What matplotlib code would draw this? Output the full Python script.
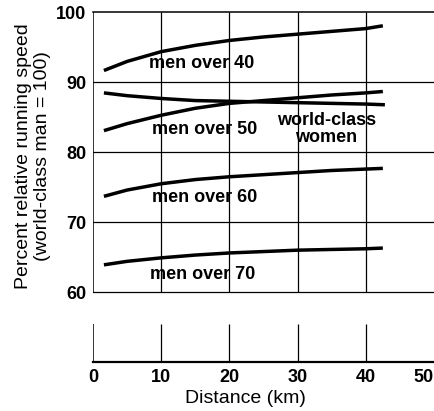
import matplotlib.pyplot as plt

plt.rcParams["font.family"] = ["Liberation Sans", "DejaVu Sans"]

DIST = [1.6, 5, 10, 15, 20, 25, 30, 35, 40, 42.5]
DIST_WOMEN = [1.6, 5, 10, 15, 20, 25, 30, 35, 40, 42.8]

MEN_OVER_40 = [91.7, 93.0, 94.4, 95.3, 96.0, 96.5, 96.9, 97.3, 97.7, 98.1]
MEN_OVER_50 = [83.1, 84.1, 85.3, 86.3, 87.0, 87.4, 87.8, 88.2, 88.5, 88.7]
WOMEN = [88.5, 88.1, 87.7, 87.4, 87.3, 87.2, 87.1, 87.0, 86.9, 86.8]
MEN_OVER_60 = [73.7, 74.6, 75.5, 76.1, 76.5, 76.8, 77.1, 77.4, 77.6, 77.7]
MEN_OVER_70 = [63.9, 64.4, 64.9, 65.3, 65.6, 65.8, 66.0, 66.1, 66.2, 66.3]

X_TICKS = [0, 10, 20, 30, 40, 50]
Y_TICKS = [60, 70, 80, 90, 100]

# label text, x, y (data units)
LABELS = [
    ("men over 40", 16.0, 92.7),
    ("men over 50", 16.4, 83.2),
    ("world-class\nwomen", 34.2, 83.3),
    ("men over 60", 16.4, 73.5),
    ("men over 70", 16.1, 62.5),
]


def main():
    fig = plt.figure(figsize=(4.34, 4.11), dpi=100)
    ax = fig.add_axes([93 / 434, 1 - 362 / 411, 1 - 93 / 434, (362 - 12.5) / 411])
    ax.set_xlim(0, 50)
    ax.set_ylim(50, 100)

    # grid: vertical lines have a gap between ~55 and 60 like the print
    for x in X_TICKS[1:-1]:
        ax.vlines(x, 60, 100, color="black", lw=0.9)
        ax.vlines(x, 50, 55.4, color="black", lw=0.9)
    ax.vlines(0, 60, 100, color="black", lw=1.1)
    ax.vlines(0, 50, 55.4, color="black", lw=1.1)
    for y in Y_TICKS[:-1]:
        ax.axhline(y, color="black", lw=0.9)

    for spine in ["left", "right"]:
        ax.spines[spine].set_visible(False)
    ax.spines["top"].set_linewidth(1.1)
    ax.spines["bottom"].set_linewidth(1.6)

    lw = 2.5
    for xs, ys in [(DIST, MEN_OVER_40), (DIST, MEN_OVER_50), (DIST_WOMEN, WOMEN),
                   (DIST, MEN_OVER_60), (DIST, MEN_OVER_70)]:
        ax.plot(xs, ys, color="black", lw=lw, solid_capstyle="butt",
                solid_joinstyle="round")

    for text, x, y in LABELS:
        ax.text(x, y, text, ha="center", va="center", fontsize=13,
                fontweight="bold", linespacing=1.0)

    ax.set_xticks(X_TICKS)
    ax.set_yticks(Y_TICKS)
    ax.tick_params(length=0, labelsize=13, pad=5)
    for lab in ax.get_xticklabels() + ax.get_yticklabels():
        lab.set_fontweight("bold")
    ax.get_xticklabels()[-1].set_ha("right")

    fig.text(245 / 434, 1 - 398 / 411, "Distance (km)", ha="center", va="center",
             fontsize=14)
    fig.text(33 / 434, 1 - 156 / 411,
             "Percent relative running speed\n(world-class man = 100)",
             ha="center", va="center", rotation=90, fontsize=14, linespacing=1.2)

    fig.savefig("out.png", dpi=100)


if __name__ == "__main__":
    main()
